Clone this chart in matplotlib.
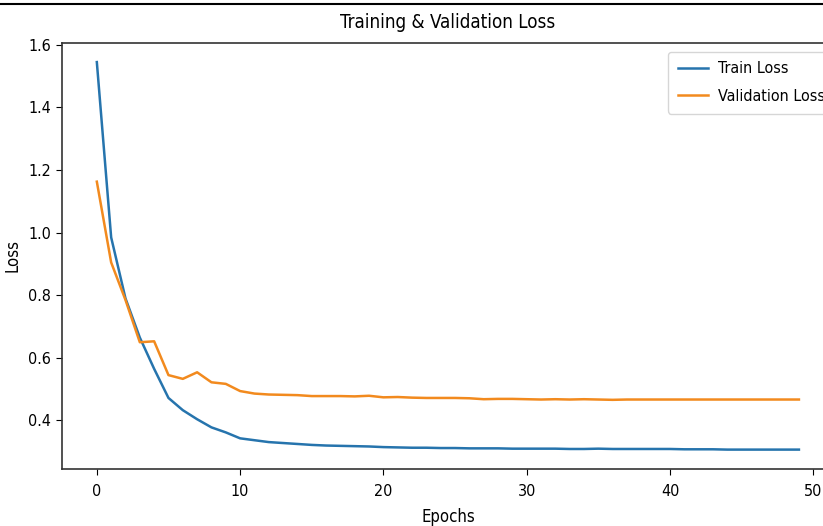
#!/usr/bin/env python3
"""Training & validation loss curves (50 epochs)."""
import matplotlib
matplotlib.use("Agg")
import matplotlib.pyplot as plt
from matplotlib.lines import Line2D

# condensed face: the screenshot text is squeezed horizontally
plt.rcParams["font.family"] = ["DejaVu Sans"]
plt.rcParams["font.stretch"] = "condensed"

epochs = list(range(50))
train_loss = [
    1.545, 0.985, 0.790, 0.665, 0.565, 0.472, 0.433, 0.404, 0.378, 0.362,
    0.343, 0.337, 0.331, 0.328, 0.325, 0.322, 0.320, 0.319, 0.318, 0.317,
    0.315, 0.314, 0.313, 0.313, 0.312, 0.312, 0.311, 0.311, 0.311, 0.310,
    0.310, 0.310, 0.310, 0.309, 0.309, 0.310, 0.309, 0.309, 0.309, 0.309,
    0.309, 0.308, 0.308, 0.308, 0.307, 0.307, 0.307, 0.307, 0.307, 0.307,
]
val_loss = [
    1.163, 0.905, 0.785, 0.650, 0.653, 0.545, 0.533, 0.554, 0.522, 0.517,
    0.494, 0.486, 0.483, 0.482, 0.481, 0.478, 0.478, 0.478, 0.477, 0.479,
    0.474, 0.475, 0.473, 0.472, 0.472, 0.472, 0.471, 0.468, 0.469, 0.469,
    0.468, 0.467, 0.468, 0.467, 0.468, 0.467, 0.466, 0.467, 0.467, 0.467,
    0.467, 0.467, 0.467, 0.467, 0.467, 0.467, 0.467, 0.467, 0.467, 0.467,
]

fig = plt.figure(figsize=(8.23, 5.26), dpi=100)
# axes run past the right edge, like the cropped screenshot
ax = fig.add_axes([0.075, 0.1084, 0.9384, 0.8104])

ax.plot(epochs, train_loss, color="#2674ad", linewidth=1.8, label="Train Loss")
ax.plot(epochs, val_loss, color="#f28a1e", linewidth=1.8, label="Validation Loss")

ax.set_title("Training & Validation Loss", fontsize=13.5, pad=10.5)
ax.set_xlabel("Epochs", fontsize=12, labelpad=7)
ax.set_ylabel("Loss", fontsize=12, labelpad=5)
ax.tick_params(labelsize=11.5, length=4)
ax.tick_params(axis="x", pad=6.5)
for s in ax.spines.values():
    s.set_color("#333333")
    s.set_linewidth(1.2)
ax.legend(loc="upper left", bbox_to_anchor=(668 / 823, 1 - 51.7 / 526),
          bbox_transform=fig.transFigure, borderaxespad=0,
          fontsize=11.5, handlelength=1.9, handletextpad=0.6,
          labelspacing=0.8, borderpad=0.6)

# black rule at the top of the screenshot
fig.add_artist(Line2D([0, 1], [1 - 3.5 / 526, 1 - 3.5 / 526],
                      transform=fig.transFigure, color="black", linewidth=1.5))

fig.savefig("out.png", dpi=100)
